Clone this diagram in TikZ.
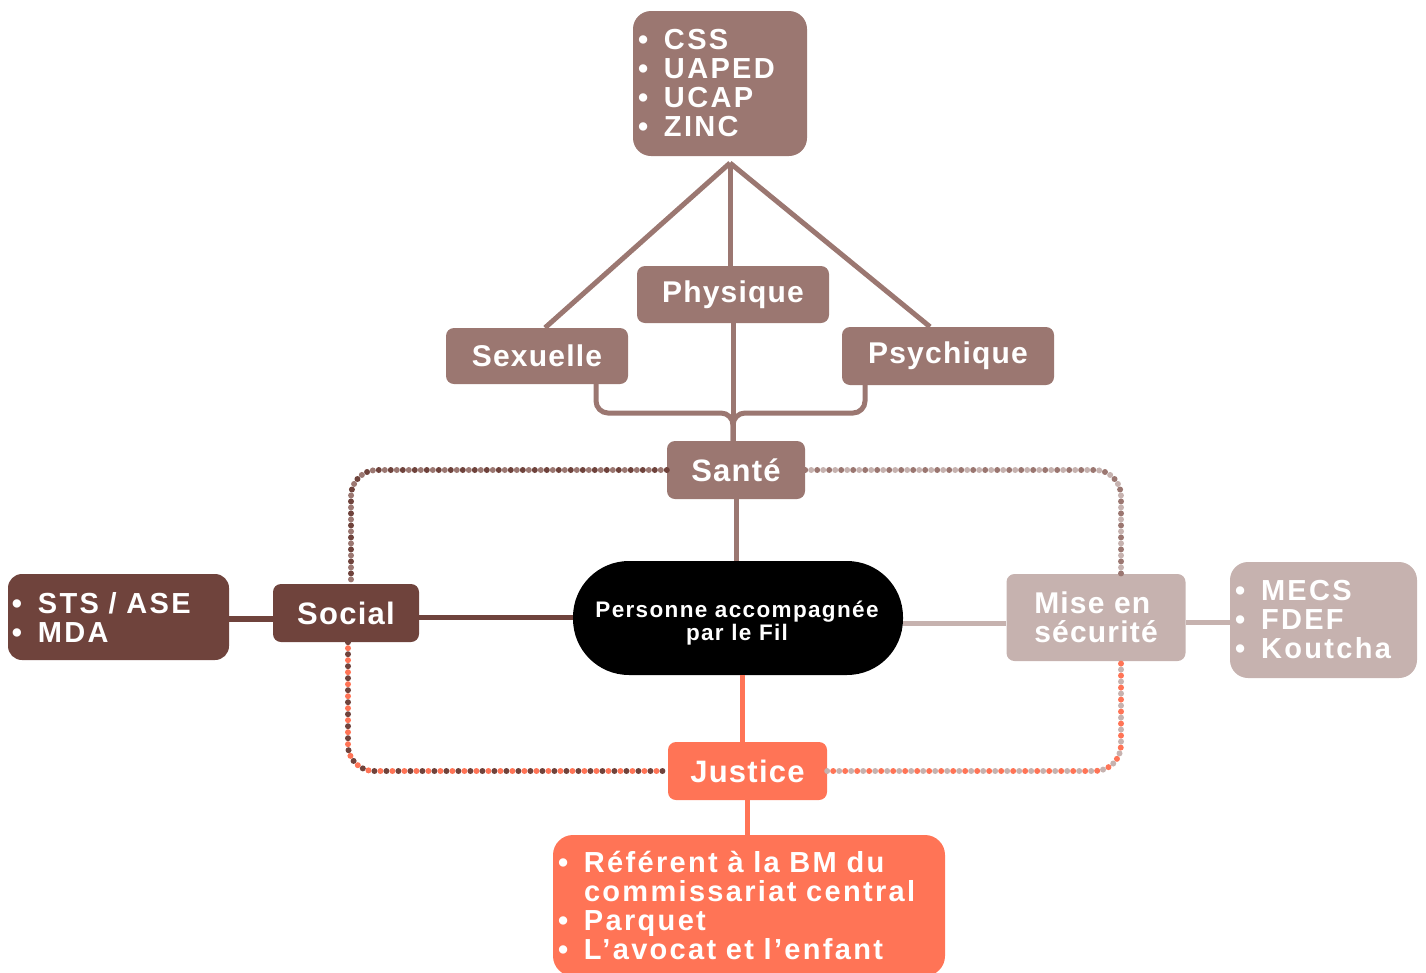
\documentclass[tikz,border=0pt]{standalone}
\usepackage{fontspec}
\setmainfont{Liberation Sans}
\newfontfamily\labfont[LetterSpace=4]{Liberation Sans}
\newfontfamily\lstfont[LetterSpace=8]{Liberation Sans}
\newfontfamily\ctrfont[LetterSpace=6]{Liberation Sans}
\definecolor{mauve}{HTML}{9B7771}
\definecolor{brun}{HTML}{6F433C}
\definecolor{clair}{HTML}{C6B2AF}
\definecolor{corail}{HTML}{FF7456}
\newcommand\bul{\makebox[26pt][l]{•}}
\begin{document}
\begin{tikzpicture}[x=1pt,y=-1pt,
  lab/.style={rectangle, rounded corners=8, text=white, inner sep=0,
    font=\labfont\bfseries\fontsize{30}{29}\selectfont},
  labbig/.style={lab, font=\labfont\bfseries\fontsize{31}{30}\selectfont},
  lst/.style={rectangle, rounded corners=16, text=white, align=left, inner ysep=0,
    font=\lstfont\bfseries\fontsize{29}{29}\selectfont},
  conn/.style={line width=5, line cap=butt},
  dotA/.style={line width=6, line cap=round, dash pattern=on 0pt off 12pt, rounded corners=26},
  dotB/.style={dotA, dash phase=6pt}]
\useasboundingbox (0,0) rectangle (1426,972);
\clip (0,0) rectangle (1426,972);

% main nodes
\node[labbig, fill=mauve, minimum width=138, minimum height=58] (sante) at (736,470) {Santé};
\node[labbig, fill=brun, minimum width=146, minimum height=58] (social) at (346,613) {Social};
\node[lab, fill=clair, minimum width=179, minimum height=87, align=left] (mise) at (1096,617.5) {Mise en\\sécurité};
\node[labbig, fill=corail, minimum width=159, minimum height=58] (justice) at (747.5,771) {Justice};

% dotted loops
\draw[dotA, brun] (sante.west) -| ([xshift=5]social.north);
\draw[dotB, mauve] (sante.west) -| ([xshift=5]social.north);
\draw[dotA, mauve] (sante.east) -| ([xshift=25]mise.north);
\draw[dotB, clair] (sante.east) -| ([xshift=25]mise.north);
\draw[dotA, brun] ([xshift=2]social.south) |- (justice.west);
\draw[dotB, corail] ([xshift=2]social.south) |- (justice.west);
\draw[dotA, clair] (justice.east) -| ([xshift=25]mise.south);
\draw[dotB, corail] (justice.east) -| ([xshift=25]mise.south);

\node[lab, fill=mauve, minimum width=192, minimum height=57] (phys) at (733,294.5) {Physique};
\node[lab, fill=mauve, minimum width=182, minimum height=56] (sex) at (537,356) {Sexuelle};
\node[lab, fill=mauve, minimum width=212, minimum height=58] (psy) at (948,356) {Psychique};

\node[lst, fill=mauve, inner xsep=5, text width=164, minimum height=145, rounded corners=18] (css) at (720,83.5)
  {\bul CSS\\\bul UAPED\\\bul UCAP\\\bul ZINC};
\node[lst, fill=brun, inner xsep=4, text width=213, minimum height=86, rounded corners=14] (sts) at (118.5,617)
  {\bul STS / ASE\\\bul MDA};
\node[lst, fill=clair, inner xsep=5, text width=177, minimum height=116, rounded corners=18] (mecs) at (1323.5,620)
  {\bul MECS\\\bul FDEF\\\bul Koutcha};
\node[lst, fill=corail, inner xsep=5, text width=382, minimum height=141, rounded corners=20] (ref) at (749,905.5)
  {\bul Référent à la BM du\\\makebox[26pt]{}commissariat central\\\bul Parquet\\\bul L’avocat et l’enfant};

\node[rectangle, rounded corners=56, fill=black, minimum width=330, minimum height=114] (ctr) at (738,618) {};
\node[text=white, align=center, font=\ctrfont\bfseries\fontsize{22.5}{23}\selectfont] (ctrT) at (737,623)
  {Personne accompagnée\\par le Fil};

% connectors - Santé branch
\coordinate (apex) at (730,163);
\draw[conn, mauve] (apex) -- ([xshift=8]sex.north);
\draw[conn, mauve] (apex) -- (apex |- phys.north);
\draw[conn, mauve] (apex) -- ([xshift=-18]psy.north);
\draw[conn, mauve] (phys.south) -- (phys.south |- sante.north);
\draw[conn, mauve, rounded corners=12] ([xshift=59]sex.south) |- (733,413) -- (733,441);
\draw[conn, mauve, rounded corners=12] ([xshift=-83]psy.south) |- (733,413) -- (733,441);
\draw[conn, mauve] (sante.south) -- (sante.south |- ctr.north);

% Social
\draw[conn, brun] ([yshift=-4]social.east) -- ([yshift=-4]social.east -| ctr.west);
\draw[conn, brun, line width=6] ([yshift=-2]sts.east) -- ([yshift=-2]sts.east -| social.west);

% Mise en sécurité
\draw[conn, clair] ([yshift=-5]ctr.east) -- ([yshift=-5]ctr.east -| mise.west);
\draw[conn, clair] ([yshift=-5]mise.east) -- ([yshift=-5]mise.east -| mecs.west);

% Justice
\draw[conn, corail] ([xshift=4]ctr.south) -- ([xshift=4]ctr.south |- justice.north);
\draw[conn, corail] (justice.south) -- (justice.south |- ref.north);
\end{tikzpicture}
\end{document}
